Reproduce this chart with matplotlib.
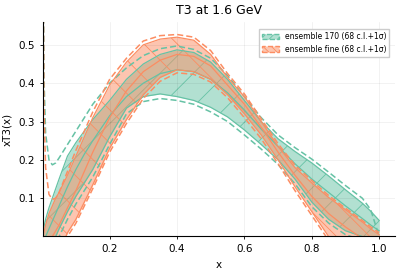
import numpy as np
import matplotlib
matplotlib.use("Agg")
import matplotlib.pyplot as plt
from matplotlib.patches import Patch

green = "#66c2a5"
orange = "#fc8d62"

x = [0.002, 0.005, 0.01, 0.02, 0.03, 0.04, 0.05, 0.075, 0.1, 0.125, 0.15, 0.2, 0.25, 0.3,
     0.35, 0.4, 0.45, 0.5, 0.55, 0.6, 0.65, 0.7, 0.75, 0.8, 0.85, 0.9, 0.95, 0.975, 1.0]

# ensemble 170
g_hi = [0.015, 0.025, 0.045, 0.075, 0.1, 0.125, 0.15, 0.21, 0.245, 0.275, 0.305, 0.355, 0.41, 0.45,
        0.475, 0.487, 0.48, 0.455, 0.41, 0.355, 0.3, 0.255, 0.222, 0.192, 0.158, 0.122, 0.087, 0.066, 0.042]
g_mid = [-0.03, -0.02, 0.0, 0.02, 0.04, 0.06, 0.08, 0.13, 0.175, 0.215, 0.25, 0.315, 0.365, 0.4,
         0.425, 0.435, 0.43, 0.41, 0.375, 0.33, 0.28, 0.235, 0.19, 0.15, 0.115, 0.08, 0.047, 0.03, 0.015]
g_lo = [-0.08, -0.07, -0.06, -0.04, -0.02, 0.0, 0.02, 0.065, 0.105, 0.14, 0.175, 0.26, 0.335, 0.365,
        0.372, 0.365, 0.355, 0.337, 0.312, 0.278, 0.24, 0.2, 0.15, 0.09, 0.045, 0.015, 0.0, -0.005, -0.01]
g_dhi = [0.9, 0.42, 0.27, 0.2, 0.187, 0.192, 0.205, 0.24, 0.275, 0.31, 0.345, 0.4, 0.44, 0.472,
         0.49, 0.497, 0.488, 0.465, 0.42, 0.365, 0.31, 0.265, 0.232, 0.202, 0.168, 0.133, 0.1, 0.07, 0.0]
g_dlo = [-0.1, -0.09, -0.08, -0.06, -0.04, -0.02, 0.0, 0.045, 0.085, 0.12, 0.155, 0.24, 0.32, 0.352,
         0.36, 0.355, 0.345, 0.325, 0.3, 0.265, 0.228, 0.188, 0.138, 0.078, 0.035, 0.005, -0.01, -0.015, -0.02]

# ensemble fine
o_hi = [0.0, 0.01, 0.03, 0.06, 0.08, 0.1, 0.115, 0.16, 0.21, 0.26, 0.31, 0.395, 0.455, 0.5,
        0.515, 0.52, 0.512, 0.475, 0.415, 0.365, 0.3, 0.235, 0.18, 0.14, 0.102, 0.07, 0.038, 0.02, 0.005]
o_mid = [-0.06, -0.05, -0.04, -0.02, 0.0, 0.015, 0.03, 0.075, 0.12, 0.17, 0.22, 0.31, 0.38, 0.43,
         0.46, 0.475, 0.47, 0.445, 0.395, 0.345, 0.285, 0.22, 0.16, 0.105, 0.06, 0.025, -0.005, -0.02, -0.035]
o_lo = [-0.12, -0.11, -0.1, -0.08, -0.065, -0.05, -0.04, 0.01, 0.045, 0.09, 0.135, 0.23, 0.305, 0.37,
        0.415, 0.435, 0.43, 0.41, 0.37, 0.32, 0.265, 0.2, 0.13, 0.065, 0.0, -0.05, -0.08, -0.09, -0.1]
o_dhi = [0.9, 0.35, 0.18, 0.11, 0.097, 0.1, 0.115, 0.17, 0.225, 0.275, 0.325, 0.41, 0.465, 0.51,
         0.524, 0.527, 0.52, 0.485, 0.425, 0.372, 0.307, 0.242, 0.186, 0.146, 0.107, 0.074, 0.042, 0.025, 0.01]
o_dlo = [-0.13, -0.12, -0.11, -0.09, -0.075, -0.06, -0.05, 0.0, 0.035, 0.08, 0.125, 0.22, 0.295, 0.36,
         0.405, 0.427, 0.423, 0.403, 0.362, 0.31, 0.255, 0.19, 0.12, 0.055, -0.01, -0.06, -0.09, -0.1, -0.11]

labels = ["ensemble 170 (68 c.l.+1σ)", "ensemble fine (68 c.l.+1σ)"]

plt.rcParams["hatch.linewidth"] = 0.6
fig = plt.figure(figsize=(4.01, 2.73), dpi=100)
ax = fig.add_axes([0.107, 0.135, 0.878, 0.785])

bands = [(g_lo, g_mid, g_hi, g_dlo, g_dhi, green, "/"),
         (o_lo, o_mid, o_hi, o_dlo, o_dhi, orange, "\\")]
for lo, mid, hi, dlo, dhi, c, h in bands:
    ax.fill_between(x, lo, hi, color=c, alpha=0.5, linewidth=0)
    ax.fill_between(x, lo, hi, facecolor="none", edgecolor=c, hatch=h, linewidth=0)
    for y in (lo, mid, hi):
        ax.plot(x, y, color=c, lw=0.9)
    for y in (dlo, dhi):
        ax.plot(x, y, color=c, lw=1.1, ls=(0, (4, 2)))

handles = [Patch(facecolor=(0.4, 0.76, 0.65, 0.5), edgecolor=green, hatch="////", ls="--"),
           Patch(facecolor=(0.99, 0.55, 0.38, 0.5), edgecolor=orange, hatch="\\\\\\\\", ls="--")]
ax.legend(handles, labels, loc="upper right", fontsize=5.5, framealpha=1,
          edgecolor="#cccccc", fancybox=False, handlelength=2.2,
          bbox_to_anchor=(0.995, 0.985))

ax.set_xlim(0.002, 1.047)
ax.set_ylim(0.001, 0.56)
ax.set_xticks([0.2, 0.4, 0.6, 0.8, 1.0])
ax.set_yticks([0.1, 0.2, 0.3, 0.4, 0.5])
ax.grid(True, color="#000000", alpha=0.07, lw=0.5)
ax.spines["top"].set_visible(False)
ax.spines["right"].set_visible(False)
ax.tick_params(labelsize=7.5, length=2.5, width=0.6)
ax.set_title("T3 at 1.6 GeV", fontsize=9)
ax.set_xlabel("x", fontsize=7.5)
ax.set_ylabel("xT3(x)", fontsize=7.5)

fig.savefig("out.png", dpi=100)
